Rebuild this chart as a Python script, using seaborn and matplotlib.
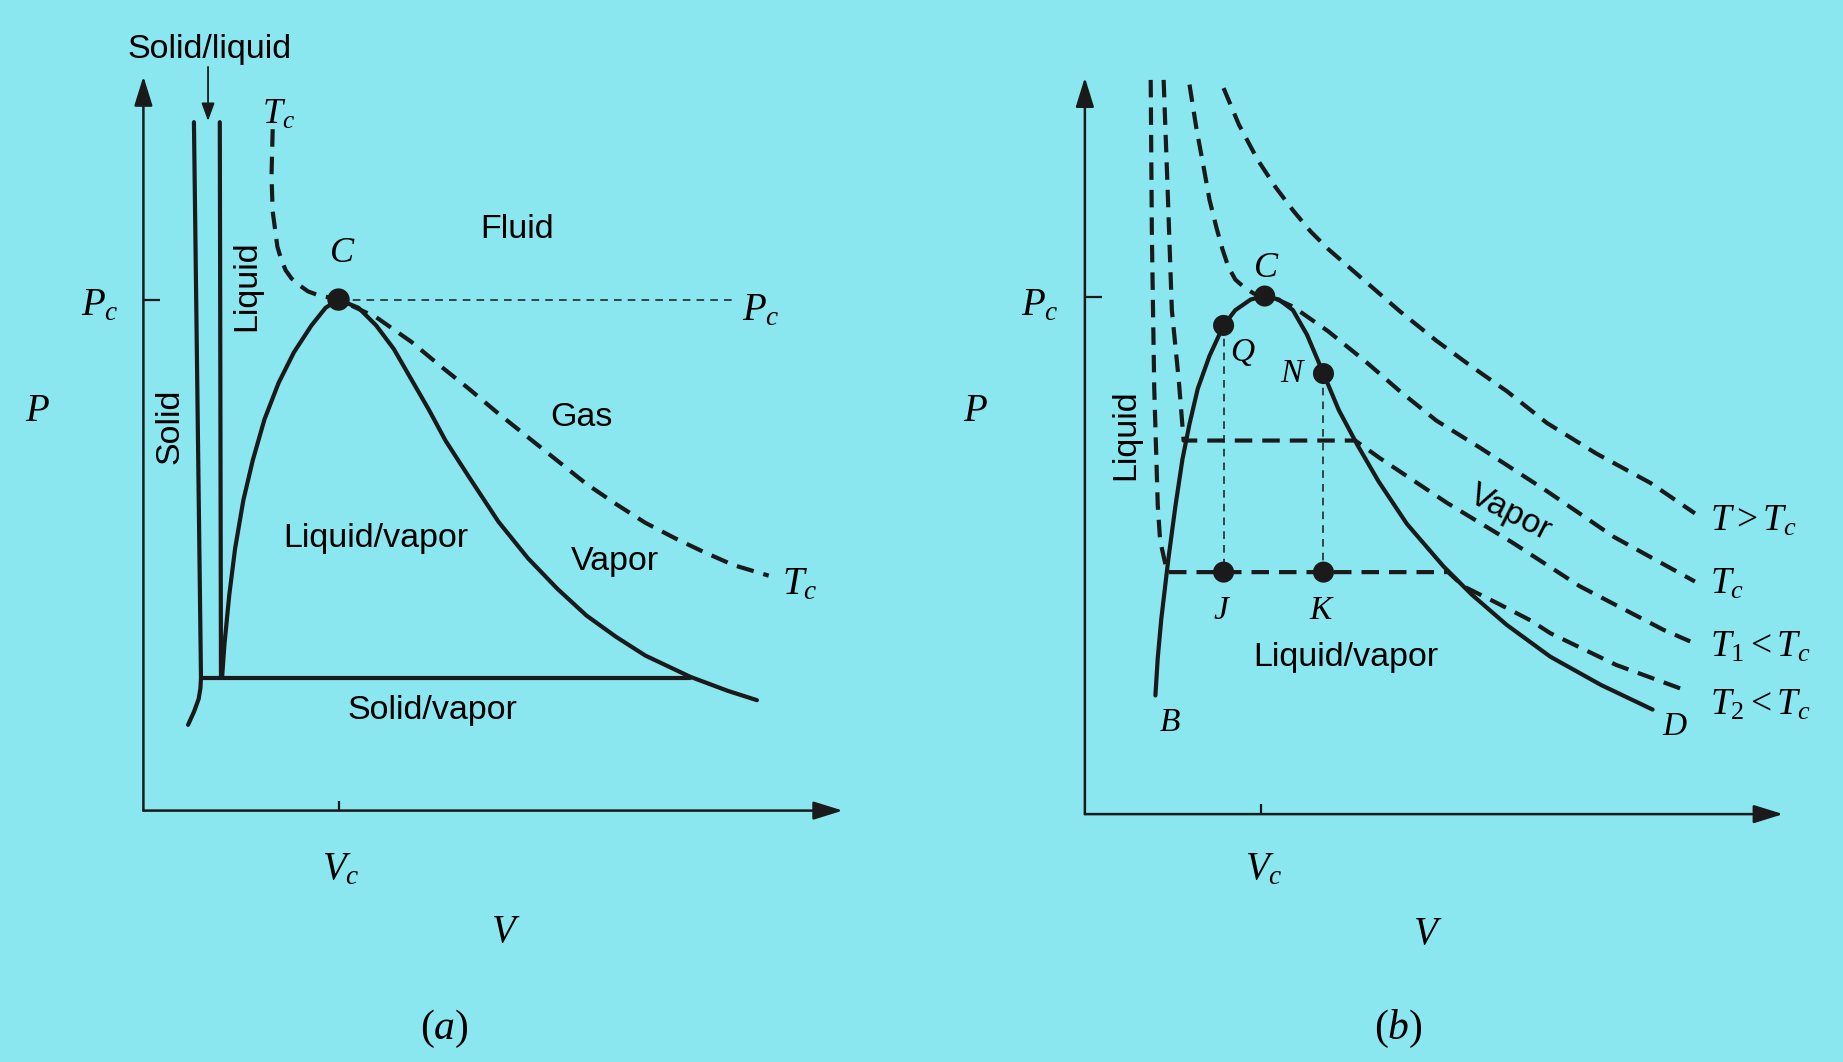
import matplotlib
matplotlib.use('Agg')
import matplotlib.pyplot as plt
import pandas as pd
import seaborn as sns

sns.set_theme(style='white')
plt.rcParams['font.family'] = ['Liberation Sans', 'DejaVu Sans']
plt.rcParams['mathtext.fontset'] = 'custom'
plt.rcParams['mathtext.rm'] = 'Liberation Serif'
plt.rcParams['mathtext.it'] = 'Liberation Serif:italic'
plt.rcParams['text.color'] = 'black'

BG = '#8ae6ef'

# ---------------- Panel (a) data ----------------
a_Vc, a_Pc = 1.66, 4.35
a_solid_V = [0.43, 0.46, 0.49, 0.485, 0.47, 0.43, 0.38]
a_solid_P = [5.86, 3.50, 1.13, 1.04, 0.95, 0.84, 0.73]
a_liquid_V = [0.65, 0.66]
a_liquid_P = [5.86, 1.13]
a_triple_V = [0.49, 4.65]
a_triple_P = [1.13, 1.13]
a_dome_V = [0.67, 0.69, 0.73, 0.78, 0.85, 0.93, 1.03, 1.15, 1.28, 1.43, 1.55, 1.66,
            1.83, 1.98, 2.13, 2.28, 2.43, 2.57, 2.77, 3.02, 3.27, 3.52, 3.77, 4.02,
            4.27, 4.65, 4.97, 5.22]
a_dome_P = [1.14, 1.42, 1.83, 2.23, 2.64, 2.98, 3.33, 3.64, 3.90, 4.13, 4.28, 4.35,
            4.28, 4.13, 3.93, 3.67, 3.41, 3.15, 2.84, 2.46, 2.15, 1.89, 1.66, 1.48,
            1.32, 1.14, 1.02, 0.94]
a_Tc_V = [1.10, 1.09, 1.10, 1.14, 1.17, 1.21, 1.26, 1.33, 1.40, 1.48, 1.66, 1.98, 2.28,
          2.52, 2.77, 3.02, 3.27, 3.52, 3.77, 4.02, 4.27, 4.52, 4.77, 5.02, 5.32]
a_Tc_P = [5.80, 5.40, 5.10, 4.80, 4.70, 4.60, 4.53, 4.47, 4.42, 4.39, 4.35, 4.20, 3.99,
          3.79, 3.59, 3.38, 3.18, 2.98, 2.78, 2.61, 2.45, 2.32, 2.20, 2.09, 2.00]
a_Pc_line_V = [1.66, 5.03]

# ---------------- Panel (b) data ----------------
b_Vc, b_Pc = 1.50, 4.40
b_dome_V = [0.60, 0.62, 0.65, 0.71, 0.77, 0.83, 0.89, 0.96, 1.06, 1.18, 1.28, 1.41,
            1.53, 1.65, 1.77, 1.89, 2.03, 2.16, 2.32, 2.50, 2.74, 3.05, 3.29, 3.59,
            3.96, 4.39, 4.83]
b_dome_P = [1.01, 1.33, 1.66, 2.17, 2.62, 3.02, 3.32, 3.62, 3.90, 4.16, 4.29, 4.38,
            4.41, 4.38, 4.29, 4.08, 3.75, 3.44, 3.14, 2.83, 2.47, 2.11, 1.87, 1.61,
            1.34, 1.10, 0.89]
b_Thot_V = [1.18, 1.31, 1.47, 1.62, 1.77, 1.92, 2.07, 2.38, 2.68, 2.99, 3.29, 3.59,
            3.93, 4.35, 4.81, 5.19]
b_Thot_P = [6.18, 5.87, 5.57, 5.34, 5.14, 4.96, 4.81, 4.54, 4.28, 4.03, 3.81, 3.60,
            3.33, 3.07, 2.82, 2.56]
b_Tc_V = [0.89, 0.95, 1.01, 1.06, 1.12, 1.17, 1.22, 1.28, 1.36, 1.44, 1.52, 1.64, 1.77,
          2.07, 2.38, 2.68, 2.99, 3.36, 3.93, 4.50, 5.19]
b_Tc_P = [6.21, 5.83, 5.51, 5.23, 4.99, 4.81, 4.66, 4.55, 4.48, 4.43, 4.41, 4.38, 4.32,
          4.11, 3.86, 3.60, 3.35, 3.12, 2.75, 2.36, 1.98]
b_T1_V = [0.67, 0.70, 0.74, 0.80, 0.84, 2.30, 2.51, 3.08, 3.64, 4.21, 4.92, 5.15]
b_T1_P = [6.25, 5.43, 4.29, 3.68, 3.18, 3.18, 3.03, 2.65, 2.31, 1.94, 1.57, 1.47]
b_T2_V = [0.56, 0.57, 0.59, 0.62, 0.64, 0.70, 3.09, 3.22, 3.50, 3.79, 3.96, 4.52, 5.12]
b_T2_P = [6.25, 4.93, 3.63, 2.63, 2.33, 2.06, 2.06, 1.94, 1.80, 1.65, 1.54, 1.27, 1.05]
b_points_name = ['C', 'Q', 'N', 'J', 'K']
b_points_V = [1.53, 1.18, 2.03, 1.18, 2.03]
b_points_P = [4.41, 4.16, 3.75, 2.06, 2.06]

# ---------------- figure ----------------
W, H = 1568.0, 904.0
fig = plt.figure(figsize=(18.43, 10.62), dpi=100)
fig.patch.set_facecolor(BG)

axA = fig.add_axes([122 / W, 1 - 690 / H, 595 / W, 625 / H])
axB = fig.add_axes([923 / W, 1 - 693 / H, 594 / W, 627 / H])
axA.set_xlim(0, 5.95); axA.set_ylim(0, 6.25)
axB.set_xlim(0, 5.94); axB.set_ylim(0, 6.27)

SOLID = dict(color='k', lw=3.0, clip_on=False, sort=False, estimator=None)
DASH = dict(color='k', lw=3.0, clip_on=False, sort=False, estimator=None,
            linestyle=(0, (4.2, 2.4)))
THIN = dict(color='k', lw=1.1, clip_on=False, sort=False, estimator=None,
            linestyle=(0, (5, 4)))

for ax in (axA, axB):
    ax.set_facecolor('none')
    for s in ax.spines.values():
        s.set_visible(False)
    ax.grid(False)
    xmax = ax.get_xlim()[1]; ymax = ax.get_ylim()[1]
    arrow = dict(arrowstyle='-|>,head_length=0.9,head_width=0.28', color='k', lw=1.8,
                 mutation_scale=20, shrinkA=0, shrinkB=0)
    ax.annotate('', xy=(xmax, 0), xytext=(0, 0), arrowprops=arrow, annotation_clip=False)
    ax.annotate('', xy=(0, ymax), xytext=(0, 0), arrowprops=arrow, annotation_clip=False)

def df(v, p):
    return pd.DataFrame({'V': v, 'P': p})

def ticks(ax, vc, pc):
    ax.set_xticks([vc]); ax.set_yticks([pc])
    ax.set_xticklabels([]); ax.set_yticklabels([])
    ax.tick_params(axis='x', bottom=True, direction='in', length=7, width=1.6, color='k')
    ax.tick_params(axis='y', left=True, direction='in', length=12, width=1.6, color='k')

SERIF = 28
SANS = 24.5

# ---------------- draw (a) ----------------
ax = axA
ticks(ax, a_Vc, a_Pc)
sns.lineplot(data=df(a_solid_V, a_solid_P), x='V', y='P', ax=ax, **SOLID)
sns.lineplot(data=df(a_liquid_V, a_liquid_P), x='V', y='P', ax=ax, **SOLID)
sns.lineplot(data=df(a_triple_V, a_triple_P), x='V', y='P', ax=ax, **SOLID)
sns.lineplot(data=df(a_dome_V, a_dome_P), x='V', y='P', ax=ax, **SOLID)
sns.lineplot(data=df(a_Tc_V, a_Tc_P), x='V', y='P', ax=ax, **DASH)
sns.lineplot(data=df(a_Pc_line_V, [a_Pc, a_Pc]), x='V', y='P', ax=ax, **THIN)
sns.scatterplot(data=df([a_Vc], [a_Pc]), x='V', y='P', ax=ax, s=260, color='k',
                edgecolor='none', zorder=5, clip_on=False)
ax.set_xlabel(''); ax.set_ylabel('')

ax.text(0.56, 6.48, 'Solid/liquid', fontsize=SANS, ha='center', va='center')
ax.annotate('', xy=(0.55, 5.87), xytext=(0.55, 6.33),
            arrowprops=dict(arrowstyle='-|>,head_length=0.6,head_width=0.22', color='k',
                            lw=1.3, mutation_scale=18, shrinkA=0, shrinkB=0),
            annotation_clip=False)
ax.text(1.15, 5.93, r'$T_c$', fontsize=26, ha='center', va='center')
ax.text(3.18, 4.95, 'Fluid', fontsize=SANS, ha='center', va='center')
ax.text(1.69, 4.75, r'$C$', fontsize=26, ha='center', va='center')
ax.text(0.88, 4.47, 'Liquid', fontsize=SANS, ha='center', va='center', rotation=90)
ax.text(0.23, 3.27, 'Solid', fontsize=SANS, ha='center', va='center', rotation=90)
ax.text(-0.37, 4.30, r'$P_c$', fontsize=SERIF, ha='center', va='center')
ax.text(5.25, 4.26, r'$P_c$', fontsize=SERIF, ha='center', va='center')
ax.text(-0.90, 3.40, r'$P$', fontsize=SERIF, ha='center', va='center')
ax.text(3.73, 3.35, 'Gas', fontsize=SANS, ha='center', va='center')
ax.text(1.98, 2.32, 'Liquid/vapor', fontsize=SANS, ha='center', va='center')
ax.text(4.01, 2.12, 'Vapor', fontsize=SANS, ha='center', va='center')
ax.text(5.58, 1.93, r'$T_c$', fontsize=SERIF, ha='center', va='center')
ax.text(2.46, 0.85, 'Solid/vapor', fontsize=SANS, ha='center', va='center')
ax.text(1.68, -0.50, r'$V_c$', fontsize=SERIF, ha='center', va='center')
ax.text(3.08, -1.03, r'$V$', fontsize=SERIF, ha='center', va='center')
ax.text(2.56, -1.86, r'$(a)$', fontsize=30, ha='center', va='center')

# ---------------- draw (b) ----------------
ax = axB
ticks(ax, b_Vc, b_Pc)
sns.lineplot(data=df(b_dome_V, b_dome_P), x='V', y='P', ax=ax, **SOLID)
sns.lineplot(data=df(b_Thot_V, b_Thot_P), x='V', y='P', ax=ax, **DASH)
sns.lineplot(data=df(b_Tc_V, b_Tc_P), x='V', y='P', ax=ax, **DASH)
sns.lineplot(data=df(b_T1_V, b_T1_P), x='V', y='P', ax=ax, **DASH)
sns.lineplot(data=df(b_T2_V, b_T2_P), x='V', y='P', ax=ax, **DASH)
# thin verticals Q-J and N-K
sns.lineplot(data=df([b_points_V[1], b_points_V[3]], [b_points_P[1], b_points_P[3]]),
             x='V', y='P', ax=ax, **THIN)
sns.lineplot(data=df([b_points_V[2], b_points_V[4]], [b_points_P[2], b_points_P[4]]),
             x='V', y='P', ax=ax, **THIN)
sns.scatterplot(data=df(b_points_V, b_points_P), x='V', y='P', ax=ax, s=230, color='k',
                edgecolor='none', zorder=5, clip_on=False)
ax.set_xlabel(''); ax.set_ylabel('')

ax.text(-0.38, 4.33, r'$P_c$', fontsize=SERIF, ha='center', va='center')
ax.text(-0.93, 3.43, r'$P$', fontsize=SERIF, ha='center', va='center')
ax.text(1.52, -0.47, r'$V_c$', fontsize=SERIF, ha='center', va='center')
ax.text(2.92, -1.02, r'$V$', fontsize=SERIF, ha='center', va='center')
ax.text(2.67, -1.83, r'$(b)$', fontsize=30, ha='center', va='center')
ax.text(1.54, 4.65, r'$C$', fontsize=26, ha='center', va='center')
ax.text(1.34, 3.93, r'$Q$', fontsize=24, ha='center', va='center')
ax.text(1.77, 3.75, r'$N$', fontsize=24, ha='center', va='center')
ax.text(1.17, 1.73, r'$J$', fontsize=24, ha='center', va='center')
ax.text(2.02, 1.73, r'$K$', fontsize=24, ha='center', va='center')
ax.text(0.72, 0.78, r'$B$', fontsize=24, ha='center', va='center')
ax.text(5.02, 0.75, r'$D$', fontsize=24, ha='center', va='center')
ax.text(0.35, 3.23, 'Liquid', fontsize=SANS, ha='center', va='center', rotation=90)
ax.text(3.62, 2.56, 'Vapor', fontsize=SANS, ha='center', va='center', rotation=-27,
        rotation_mode='anchor')
ax.text(2.22, 1.33, 'Liquid/vapor', fontsize=SANS, ha='center', va='center')
ax.text(5.32, 2.50, r'$T > T_c$', fontsize=27, ha='left', va='center')
ax.text(5.32, 1.96, r'$T_c$', fontsize=27, ha='left', va='center')
ax.text(5.32, 1.43, r'$T_1 < T_c$', fontsize=27, ha='left', va='center')
ax.text(5.32, 0.93, r'$T_2 < T_c$', fontsize=27, ha='left', va='center')

fig.savefig('out.png', dpi=100, facecolor=BG)
